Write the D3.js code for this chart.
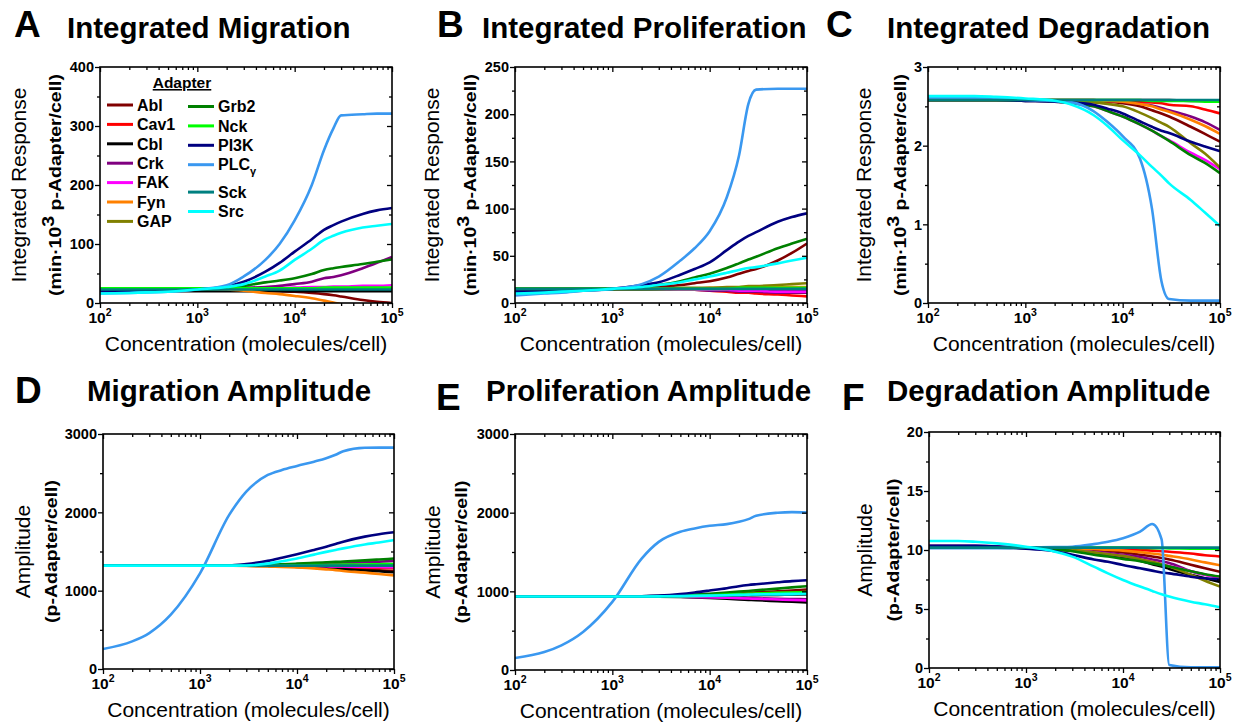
<!DOCTYPE html>
<html><head><meta charset="utf-8">
<script src="https://cdn.jsdelivr.net/npm/d3@7"></script>
<style>
body{margin:0;background:#fff}
svg text{font-family:"Liberation Sans",Arial,sans-serif;fill:#000}
</style>
</head><body>
<svg id="chart" width="1239" height="723"></svg>
<script>
// ---------------- DATA ----------------
const conc = [100,200,300,500,1000,2000,3000,5000,7000,10000,15000,20000,25000,30000,50000,70000,100000];
const adapters = ["Abl","Cav1","Cbl","Crk","FAK","Fyn","GAP","Grb2","Nck","PI3K","PLCγ","Sck","Src"];
const adapterColors = ["#800000","#FF0000","#000000","#800080","#FF00FF","#FF8000","#808000","#008000","#00FF00","#000080","#3A98F0","#008080","#00FFFF"];

// Integrated Migration (min·10^3 p-Adapter/cell)
const integratedMigration = [
  [25,25,25,25,24,23,22,21,20,19,17,15,13,11,5,2,0],
  [25,25,25,25,25,25,25,25,25,25,25,25,25,25,25,24,24],
  [20,20,20,20,20,20,20,20,20,20,20,20,20,20,20,20,20],
  [24,24,24,24,24,25,26,27,29,32,36,42,44,47,59,68,78],
  [25,25,25,25,25,25,25,25,25,26,27,27,28,28,29,29,30],
  [25,25,25,25,24,23,21,17,15,12,8,4,1,-2,-10,-15,-20],
  [25,25,25,25,25,25,25,25,25,25,25,25,25,25,25,25,25],
  [23,23,23,23,23,25,29,35,38,42,49,56,59,61,66,70,74],
  [25,25,25,25,25,25,25,25,25,25,25,26,26,26,26,26,26],
  [20,20,20,21,23,28,36,53,68,87,108,124,132,138,151,157,161],
  [16,17,18,19,23,30,45,73,100,140,200,259,296,318,320,321,321],
  [23,23,23,23,23,23,23,23,23,23,23,23,23,23,23,23,23],
  [16,17,18,19,23,27,32,45,55,73,92,107,114,119,128,131,134]
];
// Integrated Proliferation
const integratedProliferation = [
  [15,15,15,15,15,16,17,19,21,23,27,31,34,36,45,53,63],
  [15,15,15,15,15,15,15,14,14,13,12,11,11,10,9,8,7],
  [14,14,14,14,14,14,14,14,14,14,14,14,14,14,14,14,14],
  [15,15,15,15,15,15,14,14,14,13,13,12,12,12,11,11,11],
  [15,15,15,15,15,15,15,14,14,14,14,13,13,13,12,12,12],
  [15,15,15,15,15,15,15,15,15,16,16,16,16,17,17,17,17],
  [15,15,15,15,15,15,15,16,16,16,17,17,18,18,19,20,21],
  [15,15,15,15,15,17,19,23,27,31,37,42,46,49,58,63,68],
  [15,15,15,15,15,15,15,15,15,15,15,16,16,16,16,16,16],
  [12,12,12,13,15,19,22,30,36,43,56,65,71,75,86,91,95],
  [8,10,11,13,15,20,28,45,58,76,112,156,211,226,227,227,227],
  [15,15,15,15,15,15,15,15,15,15,15,15,15,15,15,15,15],
  [10,11,12,13,15,17,19,22,25,28,32,35,37,38,42,45,48]
];
// Integrated Degradation
const integratedDegradation = [
  [2.58,2.58,2.58,2.58,2.58,2.57,2.57,2.56,2.56,2.54,2.5,2.45,2.41,2.37,2.24,2.15,2.05],
  [2.58,2.58,2.58,2.58,2.58,2.58,2.58,2.58,2.57,2.57,2.56,2.55,2.54,2.52,2.5,2.46,2.41],
  [2.58,2.58,2.58,2.58,2.58,2.58,2.58,2.58,2.58,2.58,2.58,2.58,2.58,2.58,2.57,2.57,2.57],
  [2.58,2.58,2.58,2.58,2.58,2.57,2.57,2.57,2.57,2.56,2.53,2.51,2.48,2.45,2.37,2.3,2.2],
  [2.58,2.58,2.58,2.58,2.57,2.56,2.54,2.5,2.44,2.37,2.27,2.19,2.12,2.07,1.91,1.82,1.7],
  [2.58,2.58,2.58,2.58,2.58,2.57,2.57,2.57,2.57,2.56,2.53,2.5,2.46,2.43,2.33,2.25,2.15],
  [2.58,2.58,2.58,2.58,2.58,2.57,2.56,2.55,2.53,2.5,2.42,2.35,2.29,2.24,2.03,1.9,1.72],
  [2.58,2.58,2.58,2.58,2.57,2.56,2.54,2.5,2.44,2.37,2.27,2.19,2.12,2.06,1.88,1.78,1.65],
  [2.58,2.58,2.58,2.58,2.58,2.58,2.58,2.58,2.58,2.58,2.58,2.57,2.57,2.57,2.57,2.56,2.56],
  [2.58,2.58,2.58,2.58,2.57,2.56,2.55,2.52,2.47,2.41,2.31,2.24,2.19,2.16,2.05,1.99,1.93],
  [2.61,2.61,2.61,2.6,2.58,2.57,2.55,2.44,2.3,2.12,1.84,1.2,0.28,0.05,0.03,0.03,0.03],
  [2.58,2.58,2.58,2.58,2.58,2.58,2.58,2.58,2.58,2.58,2.58,2.58,2.58,2.58,2.58,2.58,2.58],
  [2.63,2.63,2.63,2.62,2.6,2.57,2.52,2.39,2.25,2.07,1.88,1.73,1.62,1.52,1.31,1.15,0.98]
];
// Migration Amplitude (p-Adapter/cell)
const migrationAmplitude = [
  [1320,1320,1320,1320,1320,1320,1320,1318,1315,1310,1302,1295,1290,1285,1270,1260,1250],
  [1320,1320,1320,1320,1320,1320,1320,1320,1318,1316,1312,1308,1305,1302,1296,1292,1288],
  [1320,1320,1320,1320,1320,1320,1318,1314,1310,1303,1293,1285,1278,1272,1258,1247,1235],
  [1320,1320,1320,1320,1320,1320,1322,1325,1328,1332,1338,1344,1348,1352,1362,1370,1380],
  [1320,1320,1320,1320,1320,1320,1320,1318,1317,1315,1313,1311,1309,1308,1305,1302,1300],
  [1320,1320,1320,1320,1320,1319,1316,1310,1304,1296,1284,1272,1262,1252,1230,1212,1195],
  [1320,1320,1320,1320,1320,1320,1320,1320,1321,1322,1323,1324,1325,1326,1328,1329,1330],
  [1320,1320,1320,1320,1320,1322,1326,1333,1338,1345,1355,1362,1367,1372,1387,1398,1410],
  [1320,1320,1320,1320,1320,1320,1320,1321,1322,1324,1326,1328,1330,1332,1335,1338,1340],
  [1320,1320,1320,1320,1320,1322,1340,1380,1420,1465,1520,1560,1595,1625,1690,1720,1745],
  [255,353,459,693,1220,1967,2265,2477,2541,2592,2647,2690,2735,2780,2824,2826,2826],
  [1320,1320,1320,1320,1320,1320,1320,1320,1320,1320,1320,1320,1320,1320,1320,1320,1320],
  [1320,1320,1320,1320,1320,1320,1322,1345,1375,1410,1460,1495,1520,1540,1590,1615,1645]
];
// Proliferation Amplitude
const proliferationAmplitude = [
  [935,935,935,935,935,935,936,940,945,952,962,972,980,987,1000,1010,1022],
  [935,935,935,935,935,935,935,937,939,941,944,947,950,952,955,958,960],
  [935,935,935,935,935,935,933,928,923,916,906,898,892,887,875,867,860],
  [935,935,935,935,935,935,934,932,930,927,922,918,915,912,906,903,900],
  [935,935,935,935,935,935,934,931,928,924,918,912,908,905,896,890,885],
  [935,935,935,935,935,935,936,939,942,945,950,955,958,961,967,971,975],
  [935,935,935,935,935,936,938,942,946,951,958,964,968,972,980,985,990],
  [935,935,935,935,935,937,941,950,958,968,983,996,1005,1013,1035,1050,1065],
  [935,935,935,935,935,936,938,942,946,951,958,964,968,972,980,985,990],
  [935,935,935,935,935,938,945,965,985,1010,1040,1065,1080,1090,1115,1130,1140],
  [153,229,314,484,866,1417,1629,1757,1799,1833,1854,1884,1918,1960,1999,2007,2003],
  [935,935,935,935,935,935,936,938,940,942,945,948,950,952,955,958,960],
  [935,935,935,935,935,935,936,939,942,945,950,955,958,961,965,968,972]
];
// Degradation Amplitude
const degradationAmplitude = [
  [10.2,10.2,10.2,10.2,10.2,10.15,10.1,10.0,9.9,9.8,9.6,9.45,9.32,9.2,8.75,8.45,8.15],
  [10.2,10.2,10.2,10.2,10.2,10.2,10.18,10.15,10.1,10.05,10.0,9.95,9.9,9.85,9.7,9.55,9.45],
  [10.2,10.2,10.2,10.2,10.15,10.05,9.95,9.75,9.6,9.4,9.1,8.8,8.6,8.4,7.9,7.6,7.3],
  [10.35,10.35,10.35,10.32,10.2,10.05,9.95,9.85,9.75,9.6,9.4,9.2,9.05,8.9,8.2,7.9,7.7],
  [10.2,10.2,10.2,10.2,10.2,10.1,10.0,9.8,9.65,9.5,9.2,9.0,8.8,8.65,8.2,7.9,7.6],
  [10.2,10.2,10.2,10.2,10.2,10.15,10.12,10.08,10.02,9.95,9.82,9.7,9.6,9.5,9.2,8.95,8.7],
  [10.2,10.2,10.2,10.2,10.2,10.1,10.0,9.8,9.65,9.5,9.22,9.0,8.8,8.6,7.9,7.4,6.9],
  [10.2,10.2,10.2,10.2,10.2,10.05,9.9,9.6,9.45,9.25,9.05,8.85,8.72,8.6,8.2,7.95,7.75],
  [10.2,10.2,10.2,10.2,10.2,10.2,10.2,10.2,10.2,10.2,10.18,10.16,10.15,10.14,10.12,10.1,10.1],
  [10.35,10.35,10.35,10.3,10.1,9.9,9.6,9.2,9.0,8.73,8.45,8.25,8.1,8.02,7.74,7.6,7.5],
  [10.15,10.15,10.15,10.15,10.2,10.25,10.28,10.5,10.7,11.0,11.55,12.2,10.9,0.25,0.05,0.05,0.05],
  [10.2,10.2,10.2,10.2,10.2,10.2,10.2,10.2,10.2,10.2,10.2,10.2,10.2,10.2,10.2,10.2,10.2],
  [10.76,10.76,10.7,10.56,10.28,9.86,9.44,8.59,8.02,7.46,6.9,6.53,6.25,6.05,5.62,5.4,5.14]
];

// Tick values
const xTickValues = [100,1000,10000,100000];
const migTicks = [0,100,200,300,400];
const prolTicks = [0,50,100,150,200,250];
const degTicks = [0,1,2,3];
const ampTicks = [0,1000,2000,3000];
const degAmpTicks = [0,5,10,15,20];

// Texts
const panelLetters = ["A","B","C","D","E","F"];
const panelTitles = ["Integrated Migration","Integrated Proliferation","Integrated Degradation","Migration Amplitude","Proliferation Amplitude","Degradation Amplitude"];
const xTitle = "Concentration (molecules/cell)";
const legendTitle = "Adapter";

// ---------------- LAYOUT ----------------
const panels = [
  {data:integratedMigration, ticks:migTicks, frame:[100,67,392,303], letter:[14,37], title:[67,38], integ:true, t1:-74, t2:-39, legend:true},
  {data:integratedProliferation, ticks:prolTicks, frame:[515,67,807,303], letter:[437,37], title:[482,38], integ:true, t1:-76, t2:-39},
  {data:integratedDegradation, ticks:degTicks, frame:[928,67,1220,303], letter:[826,37], title:[887,38], integ:true, t1:-57, t2:-22},
  {data:migrationAmplitude, ticks:ampTicks, frame:[103,434,394,669], letter:[15,403], title:[87,401], integ:false, t1:-73, t2:-46},
  {data:proliferationAmplitude, ticks:ampTicks, frame:[515,434,807,670], letter:[436,410], title:[486,401], integ:false, t1:-75, t2:-48},
  {data:degradationAmplitude, ticks:degAmpTicks, frame:[929,432,1220,668], letter:[842,410], title:[887,401], integ:false, t1:-57, t2:-30}
];

const svg = d3.select("#chart");

panels.forEach((p, pi) => {
  const [x0,y0,x1,y1] = p.frame;
  const g = svg.append("g");
  const ticks = p.ticks;
  const x = d3.scaleLog().domain([100,100000]).range([x0,x1]);
  const y = d3.scaleLinear().domain([ticks[0], ticks[ticks.length-1]]).range([y1,y0]);
  const step = ticks[1]-ticks[0];
  const yMinor = ticks.slice(0,-1).map(t => t + step/2);
  const xMinor = [];
  for (let d = 100; d < 100000; d *= 10) for (let k = 2; k <= 9; k++) xMinor.push(d*k);

  const cid = "clip"+pi;
  svg.append("clipPath").attr("id",cid).append("rect")
    .attr("x",x0).attr("y",y0).attr("width",x1-x0).attr("height",y1-y0);

  const line = d3.line().x((d,i)=>x(conc[i])).y(d=>y(d)).curve(d3.curveMonotoneX);
  const lg = g.append("g").attr("clip-path",`url(#${cid})`);
  p.data.forEach((series, si) => {
    lg.append("path").attr("d", line(series)).attr("fill","none")
      .attr("stroke", adapterColors[si]).attr("stroke-width",2.6)
      .attr("stroke-linejoin","round");
  });

  const ax = (gen, tx, ty, size, vals) => {
    const a = g.append("g").attr("transform",`translate(${tx},${ty})`)
      .call(gen.tickValues(vals).tickSize(size).tickFormat(""));
    a.select(".domain").remove();
    a.selectAll(".tick line").attr("stroke","#000").attr("stroke-width",1.3);
    return a;
  };
  ax(d3.axisLeft(y), x0, 0, 5, ticks);
  ax(d3.axisLeft(y), x0, 0, 3, yMinor);
  ax(d3.axisRight(y), x1, 0, -5, ticks);
  ax(d3.axisRight(y), x1, 0, -3, yMinor);
  ax(d3.axisBottom(x), 0, y1, 5, xTickValues);
  ax(d3.axisBottom(x), 0, y1, 3, xMinor);
  ax(d3.axisTop(x), 0, y0, -5, xTickValues);
  ax(d3.axisTop(x), 0, y0, -3, xMinor);

  g.append("rect").attr("x",x0).attr("y",y0).attr("width",x1-x0).attr("height",y1-y0)
    .attr("fill","none").attr("stroke","#000").attr("stroke-width",1.6);

  g.selectAll(".ylab").data(ticks).enter().append("text")
    .attr("x", x0-6).attr("y", d=>y(d)).attr("dy","0.36em")
    .attr("text-anchor","end").attr("font-weight","bold").attr("font-size",14.5)
    .text(d=>d3.format("d")(d));

  xTickValues.forEach(v => {
    const t = g.append("text").attr("x", x(v)).attr("y", y1+20)
      .attr("text-anchor","middle").attr("font-weight","bold").attr("font-size",15.5);
    t.append("tspan").text("10");
    t.append("tspan").attr("font-size",10.5).attr("dy",-7).text(String(Math.round(Math.log10(v))));
  });

  g.append("text").attr("x",(x0+x1)/2).attr("y",y1+48).attr("text-anchor","middle")
    .attr("font-size",21).text(xTitle);

  const yc = (y0+y1)/2;
  const yt1 = g.append("text").attr("transform",`translate(${x0+p.t1},${yc}) rotate(-90)`)
    .attr("text-anchor","middle").attr("font-size",21);
  const yt2 = g.append("text").attr("transform",`translate(${x0+p.t2},${yc}) rotate(-90)`)
    .attr("text-anchor","middle").attr("font-weight","bold").attr("font-size",17)
    .attr("lengthAdjust","spacingAndGlyphs");
  if (p.integ) {
    yt1.text("Integrated Response");
    yt2.attr("textLength",222);
    yt2.append("tspan").text("(min·10");
    yt2.append("tspan").attr("font-size",17).attr("dy",-7).text("3");
    yt2.append("tspan").attr("dy",7).text(" p-Adapter/cell)");
  } else {
    yt1.text("Amplitude");
    yt2.attr("textLength",143).text("(p-Adapter/cell)");
  }

  g.append("text").attr("x",p.letter[0]).attr("y",p.letter[1]).attr("font-weight","bold")
    .attr("font-size",37).text(panelLetters[pi]);
  g.append("text").attr("x",p.title[0]).attr("y",p.title[1]).attr("font-weight","bold")
    .attr("font-size",29.5).text(panelTitles[pi]);

  if (p.legend) {
    const L = g.append("g");
    L.append("text").attr("x",x0+82).attr("y",y0+21).attr("text-anchor","middle")
      .attr("font-weight","bold").attr("font-size",15.5)
      .attr("text-decoration","underline").text(legendTitle);
    adapters.forEach((name, i) => {
      const col = i < 7 ? 0 : 1;
      const row = i < 7 ? i : i - 7;
      const lx = x0 + (col ? 88 : 7);
      const ly = y0 + (col ? 39.5 : 38) + row*19.4 + (col && row >= 4 ? 8 : 0);
      L.append("line").attr("x1",lx).attr("x2",lx+26).attr("y1",ly).attr("y2",ly)
        .attr("stroke",adapterColors[i]).attr("stroke-width",3);
      const t = L.append("text").attr("x",lx+30).attr("y",ly).attr("dy","0.36em")
        .attr("font-weight","bold").attr("font-size",16);
      if (name === "PLCγ") {
        t.append("tspan").text("PLC");
        t.append("tspan").attr("font-size",11).attr("dy",5).text("γ");
      } else t.text(name);
    });
  }
});
</script>
</body></html>
